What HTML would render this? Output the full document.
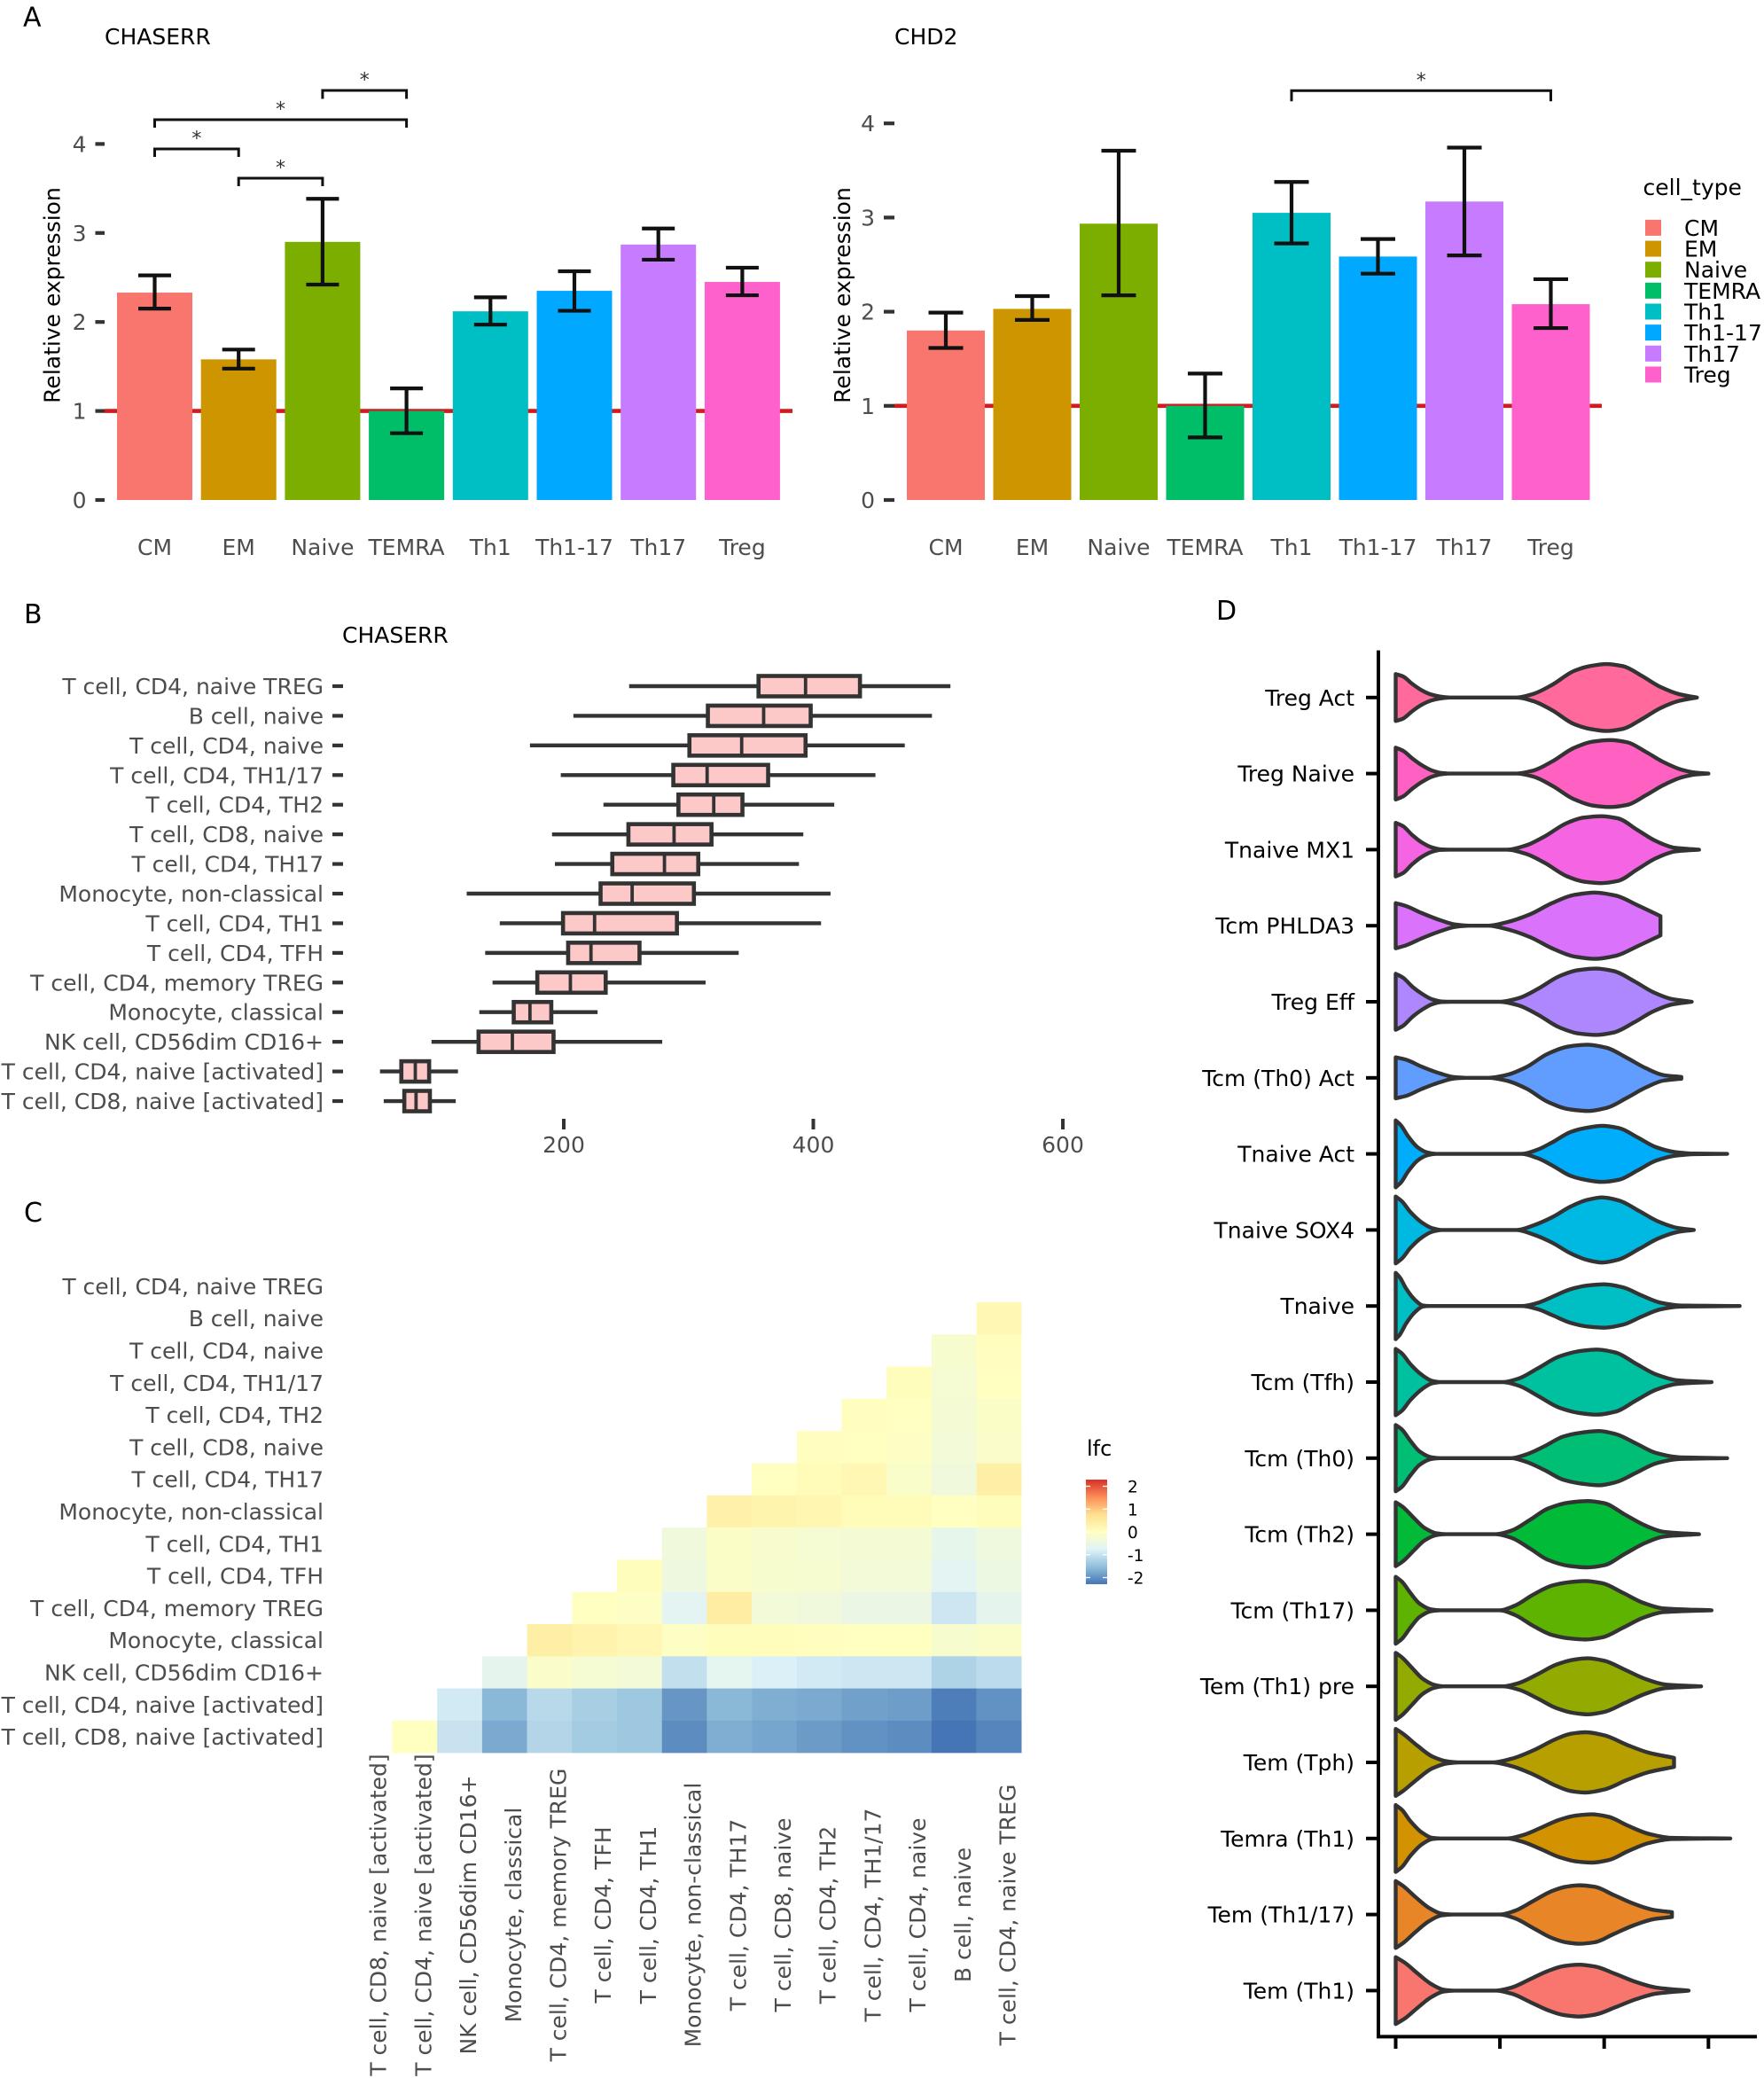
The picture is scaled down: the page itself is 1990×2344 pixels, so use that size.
<!DOCTYPE html>
<html>
<head>
<meta charset="utf-8">
<title>CHASERR expression figure</title>
<style>
html,body{margin:0;padding:0;background:#fff;}
svg{display:block;font-family:"DejaVu Sans","Liberation Sans",sans-serif;}
</style>
</head>
<body>
<svg id="fig" width="1990" height="2344" viewBox="0 0 1990 2344"></svg>
<script>
/* ===== Panel A data ===== */
var barCategories = ['CM','EM','Naive','TEMRA','Th1','Th1-17','Th17','Treg'];
var barColors = ['#F8766D','#CD9600','#7CAE00','#00BE67','#00BFC4','#00A9FF','#C77CFF','#FF61CC'];
var yTicksA = [0,1,2,3,4];
var chaserrMeans = [2.33,1.58,2.90,1.00,2.12,2.35,2.87,2.45];
var chaserrHigh  = [2.524,1.69,3.384,1.254,2.277,2.57,3.05,2.61];
var chaserrLow   = [2.15,1.476,2.42,0.75,1.97,2.126,2.70,2.30];
var chd2Means = [1.80,2.03,2.935,1.00,3.05,2.586,3.17,2.08];
var chd2High  = [1.99,2.166,3.71,1.343,3.378,2.772,3.743,2.345];
var chd2Low   = [1.615,1.913,2.174,0.665,2.725,2.404,2.598,1.826];

/* ===== Panel B data ===== */
var boxLabels = ['T cell, CD4, naive TREG','B cell, naive','T cell, CD4, naive','T cell, CD4, TH1/17','T cell, CD4, TH2','T cell, CD8, naive','T cell, CD4, TH17','Monocyte, non-classical','T cell, CD4, TH1','T cell, CD4, TFH','T cell, CD4, memory TREG','Monocyte, classical','NK cell, CD56dim CD16+','T cell, CD4, naive [activated]','T cell, CD8, naive [activated]'];
var boxWhiskerLow = [252.4,207.7,172.9,197.6,231.8,190.6,192.9,122.2,148.7,137,142.9,132.3,94,52.7,55.7];
var boxQ1 = [356.1,315.5,300.7,287.8,291.9,251.8,238.9,229.5,199.4,203.5,178.8,159.9,131.7,69.8,72.2];
var boxMedian = [393.8,360.2,342.6,314.9,320.2,288.4,280.7,254.8,224.7,221.8,205.3,172.9,158.8,81,81.6];
var boxQ3 = [437.4,397.9,393.8,363.8,343.2,318.4,307.8,304.3,290.7,260.7,233.6,190,191.8,92.1,92.7];
var boxWhiskerHigh = [509.9,495.1,473.3,449.8,416.8,392,388.5,413.8,406.2,340.2,313.7,227.1,278.9,115.2,113.4];
var boxXTicks = [200,400,600];

/* ===== Panel C data ===== */
var heatColLabels = ['T cell, CD8, naive [activated]','T cell, CD4, naive [activated]','NK cell, CD56dim CD16+','Monocyte, classical','T cell, CD4, memory TREG','T cell, CD4, TFH','T cell, CD4, TH1','Monocyte, non-classical','T cell, CD4, TH17','T cell, CD8, naive','T cell, CD4, TH2','T cell, CD4, TH1/17','T cell, CD4, naive','B cell, naive','T cell, CD4, naive TREG'];
var heatRowLabels = boxLabels;
var heatValues = [
 [],
 [0.2],
 [-0.2,0.02],
 [0.05,-0.25,-0.03],
 [0.02,-0.02,-0.28,-0.1],
 [0.02,-0.03,-0.07,-0.33,-0.13],
 [-0.03,0.1,0.2,-0.15,-0.38,0.4],
 [0.35,0.28,0.22,0.1,0.1,-0.03,0.05],
 [-0.38,-0.1,-0.18,-0.25,-0.28,-0.28,-0.58,-0.4],
 [0.05,-0.42,-0.12,-0.2,-0.22,-0.33,-0.33,-0.68,-0.47],
 [-0.02,-0.08,-0.68,0.45,-0.33,-0.38,-0.5,-0.5,-0.95,-0.63],
 [0.4,0.3,0.2,-0.07,0.05,0.05,0.02,-0.02,0,-0.2,-0.12],
 [-0.63,-0.13,-0.25,-0.33,-1.05,-0.65,-0.8,-0.9,-0.95,-0.95,-1.25,-1.1],
 [-0.9,-1.6,-1.15,-1.3,-1.4,-1.95,-1.6,-1.7,-1.75,-1.85,-1.88,-2.2,-2.0],
 [0,-1.0,-1.75,-1.2,-1.35,-1.4,-2.05,-1.7,-1.8,-1.9,-2.0,-2.05,-2.3,-2.12]
];
var colorStops = ['#4575B4','#91BFDB','#E0F3F8','#FFFFBF','#FEE090','#FC8D59','#D73027'];
var colorLimit = 2.29;
var legendTicks = [2,1,0,-1,-2];

/* ===== Panel D data ===== */
var violinLabels = ['Treg Act','Treg Naive','Tnaive MX1','Tcm PHLDA3','Treg Eff','Tcm (Th0) Act','Tnaive Act','Tnaive SOX4','Tnaive','Tcm (Tfh)','Tcm (Th0)','Tcm (Th2)','Tcm (Th17)','Tem (Th1) pre','Tem (Tph)','Temra (Th1)','Tem (Th1/17)','Tem (Th1)'];
var violinColors = ['#FF699C','#FF61C3','#F564E3','#DB72FB','#AE87FF','#619CFF','#00ADFA','#00B9E3','#00BFC4','#00C19F','#00BF74','#00BA38','#5EB300','#93AA00','#B79F00','#D39200','#E88526','#F8766D'];
var violinTicks = [0,1,2,3];
var violinDensities = [
 [[0,.78],[.07,.70],[.16,.45],[.25,.24],[.34,.10],[.43,.03],[.52,0],[1.16,0],[1.32,.12],[1.50,.42],[1.71,.88],[1.86,1.04],[2.02,1.11],[2.18,1.04],[2.36,.72],[2.54,.35],[2.72,.11],[2.89,0]],
 [[0,.86],[.07,.76],[.16,.50],[.25,.28],[.35,.10],[.44,.02],[.53,0],[1.16,0],[1.32,.10],[1.50,.40],[1.71,.85],[1.89,1.06],[2.06,1.11],[2.22,1.04],[2.40,.72],[2.57,.38],[2.75,.12],[2.88,.03],[3.00,0]],
 [[0,.89],[.07,.78],[.16,.48],[.25,.24],[.35,.07],[.43,.01],[.52,0],[1.07,0],[1.25,.14],[1.43,.44],[1.64,.88],[1.80,1.06],[1.97,1.11],[2.13,1.04],[2.32,.65],[2.50,.28],[2.68,.06],[2.91,0]],
 [[0,.75],[.10,.65],[.25,.42],[.43,.18],[.57,.04],[.71,0],[.89,0],[1.07,.12],[1.29,.38],[1.50,.75],[1.71,1.02],[1.91,1.10],[2.11,1.00],[2.32,.68],[2.54,.32]],
 [[0,.93],[.07,.80],[.16,.50],[.25,.27],[.35,.08],[.44,.01],[.53,0],[1.00,0],[1.18,.12],[1.36,.42],[1.57,.85],[1.75,1.05],[1.92,1.10],[2.09,1.02],[2.29,.68],[2.47,.32],[2.65,.09],[2.84,0]],
 [[0,.68],[.10,.60],[.25,.37],[.43,.14],[.57,.02],[.68,0],[.89,0],[1.07,.10],[1.25,.35],[1.46,.80],[1.66,1.04],[1.84,1.10],[2.02,1.00],[2.22,.66],[2.40,.32],[2.57,.09],[2.74,.03]],
 [[0,1.11],[.05,.95],[.12,.58],[.21,.22],[.30,.05],[.39,0],[1.21,0],[1.36,.14],[1.50,.38],[1.68,.73],[1.82,.86],[1.98,.93],[2.14,.86],[2.32,.55],[2.50,.22],[2.68,.06],[2.86,.01],[3.18,0]],
 [[0,1.11],[.06,.95],[.14,.60],[.25,.25],[.35,.06],[.44,0],[1.16,0],[1.32,.15],[1.50,.42],[1.68,.78],[1.84,1.00],[1.98,1.08],[2.14,.98],[2.34,.62],[2.52,.28],[2.70,.07],[2.86,0]],
 [[0,1.10],[.04,.95],[.10,.58],[.18,.22],[.26,.02],[.32,0],[1.21,0],[1.36,.10],[1.50,.30],[1.68,.56],[1.84,.68],[2.00,.72],[2.18,.62],[2.36,.35],[2.54,.11],[2.72,.02],[3.30,0]],
 [[0,1.10],[.06,.95],[.14,.60],[.25,.24],[.35,.04],[.43,0],[1.03,0],[1.18,.12],[1.36,.45],[1.57,.85],[1.77,1.03],[1.93,1.08],[2.11,.98],[2.31,.60],[2.50,.25],[2.70,.06],[3.03,0]],
 [[0,1.10],[.06,.95],[.14,.58],[.23,.22],[.34,.03],[.43,0],[1.11,0],[1.25,.12],[1.43,.40],[1.61,.72],[1.79,.85],[1.95,.90],[2.11,.80],[2.31,.48],[2.50,.17],[2.72,.03],[3.18,0]],
 [[0,1.06],[.07,.90],[.18,.52],[.28,.20],[.39,.03],[.48,0],[.96,0],[1.11,.12],[1.29,.48],[1.46,.85],[1.66,1.05],[1.84,1.10],[2.00,1.03],[2.20,.65],[2.40,.28],[2.57,.08],[2.91,0]],
 [[0,1.11],[.06,.95],[.14,.58],[.23,.22],[.34,.03],[.43,0],[1.00,0],[1.14,.15],[1.32,.52],[1.50,.82],[1.66,.93],[1.82,.97],[1.98,.90],[2.18,.58],[2.38,.24],[2.57,.06],[3.03,0]],
 [[0,1.11],[.06,.96],[.16,.60],[.26,.25],[.37,.05],[.46,0],[1.03,0],[1.18,.11],[1.36,.40],[1.54,.72],[1.70,.88],[1.84,.93],[2.00,.85],[2.20,.55],[2.40,.24],[2.59,.06],[2.93,0]],
 [[0,1.11],[.07,.95],[.21,.55],[.35,.20],[.50,.03],[.61,0],[.93,0],[1.11,.12],[1.32,.40],[1.54,.78],[1.68,.95],[1.82,1.00],[2.00,.90],[2.22,.58],[2.43,.32],[2.67,.15]],
 [[0,1.11],[.06,.95],[.14,.58],[.25,.20],[.35,.02],[.43,0],[1.07,0],[1.21,.10],[1.39,.35],[1.57,.62],[1.73,.76],[1.88,.80],[2.04,.72],[2.23,.42],[2.43,.15],[2.65,.02],[3.21,0]],
 [[0,1.11],[.07,.95],[.19,.58],[.32,.22],[.44,.03],[.55,0],[1.00,0],[1.14,.12],[1.32,.45],[1.50,.78],[1.63,.92],[1.76,.97],[1.91,.92],[2.09,.65],[2.29,.35],[2.48,.15],[2.65,.08]],
 [[0,1.11],[.09,.92],[.21,.57],[.34,.22],[.46,.03],[.57,0],[.96,0],[1.11,.10],[1.29,.38],[1.46,.65],[1.61,.81],[1.76,.86],[1.91,.80],[2.11,.55],[2.31,.28],[2.50,.10],[2.81,0]]
];

/* ===== helpers ===== */
var svg = document.getElementById('fig');
var NS = svg.namespaceURI;
var FS = 25;
function mk(tag, attrs, parent) {
  var e = document.createElementNS(NS, tag);
  for (var k in attrs) { e.setAttribute(k, attrs[k]); }
  (parent || svg).appendChild(e);
  return e;
}
function txt(x, y, s, fill, size, anchor, rot) {
  var a = {x:x, y:y, fill:fill, 'font-size':size, 'text-anchor':anchor || 'start'};
  if (rot) { a.transform = 'rotate(-90 ' + x + ' ' + y + ')'; }
  var t = mk('text', a);
  t.textContent = s;
  return t;
}
function line(x1, y1, x2, y2, color, w) {
  return mk('line', {x1:x1, y1:y1, x2:x2, y2:y2, stroke:color, 'stroke-width':w});
}
function slug(s) {
  return s.toLowerCase().replace(/[^a-z0-9]+/g, '-').replace(/^-|-$/g, '');
}

/* ===== panel letters and titles ===== */
var panelLetters = [['A',26,29.5],['B',27,703],['C',27,1378],['D',1372,699]];
panelLetters.forEach(function (p) {
  var t = txt(p[1], p[2], p[0], '#000', 30);
  
  
});

/* ===== Panel A bar charts ===== */
function barPanel(cfg) {
  var y = function (v) { return cfg.y0 - v * cfg.unit; };
  var x = function (i) { return cfg.x0 + i * cfg.step; };
  var title = txt(cfg.titleX, 50, cfg.gene, '#000', FS);
  
  
  var yt = txt(cfg.ylabX, 333, 'Relative expression', '#000', FS, 'middle', true);
  
  
  yTicksA.forEach(function (v) {
    var tk = line(cfg.tickX, y(v), cfg.refStart, y(v), '#333', 4.2);
    
    
    var lb = txt(cfg.tickX - 10, y(v) + 9, String(v), '#4d4d4d', FS, 'end');
    
    
  });
  var ref = line(cfg.refStart, y(1), cfg.refEnd, y(1), '#D01C1F', 4.6);
  
  
  barCategories.forEach(function (c, i) {
    var b = mk('rect', {x:x(i) - cfg.bw / 2, y:y(cfg.means[i]), width:cfg.bw, height:cfg.y0 - y(cfg.means[i]), fill:barColors[i]});
    
    
  });
  barCategories.forEach(function (c, i) {
    var eb = mk('path', {
      d: 'M' + (x(i) - cfg.cap / 2) + ' ' + y(cfg.high[i]) + 'H' + (x(i) + cfg.cap / 2) +
         'M' + x(i) + ' ' + y(cfg.high[i]) + 'V' + y(cfg.low[i]) +
         'M' + (x(i) - cfg.cap / 2) + ' ' + y(cfg.low[i]) + 'H' + (x(i) + cfg.cap / 2),
      stroke:'#111', 'stroke-width':4.2, fill:'none'});
    
    
    var lb = txt(x(i), 626, c, '#4d4d4d', FS, 'middle');
    
    
  });
  cfg.brackets.forEach(function (b, k) {
    var xa = x(b[0]), xb = x(b[1]);
    var br = mk('path', {d:'M' + xa + ' ' + (b[2] + b[3]) + 'V' + b[2] + 'H' + xb + 'V' + (b[2] + b[3]), stroke:'#111', 'stroke-width':3, fill:'none'});
    
    
    var st = txt((xa + xb) / 2, b[2] - 4.5, '*', '#333', 22, 'middle');
    
    
  });
}
barPanel({key:'chaserr', gene:'CHASERR', titleX:118, ylabX:67.5, y0:564, unit:100.4, x0:174.5, step:94.7, bw:85, cap:37,
  tickX:107.5, refStart:118, refEnd:894, means:chaserrMeans, high:chaserrHigh, low:chaserrLow,
  brackets:[[0,1,168,9],[1,2,201,9],[0,3,135,9],[2,3,102,9.5]]});
barPanel({key:'chd2', gene:'CHD2', titleX:1009, ylabX:959, y0:564, unit:106.2, x0:1067, step:97.5, bw:88, cap:39,
  tickX:997, refStart:1009, refEnd:1807, means:chd2Means, high:chd2High, low:chd2Low,
  brackets:[[4,7,102.3,12]]});

/* legend for bars */
var legTitle = txt(1853.5, 220, 'cell_type', '#000', FS);


barCategories.forEach(function (c, i) {
  var cy = 256.9 + i * 23.65;
  var sw = mk('rect', {x:1856, y:cy - 9, width:18, height:18, fill:barColors[i]});
  
  
  var lb = txt(1900, cy + 9, c, '#000', FS);
  
  
});

/* ===== Panel B boxplot ===== */
var boxX = function (v) { return 636 + (v - 200) * 1.4075; };
var boxY = function (i) { return 774 + i * 33.43; };
var bTitle = txt(386, 725, 'CHASERR', '#000', FS);


boxLabels.forEach(function (c, i) {
  var cy = boxY(i);
  var tk = line(375, cy, 387, cy, '#333', 4.2);
  
  
  var lb = txt(365, cy + 9, c, '#4d4d4d', FS, 'end');
  
  
  var wh = line(boxX(boxWhiskerLow[i]), cy, boxX(boxWhiskerHigh[i]), cy, '#333', 4.4);
  
  
  var bx = mk('rect', {x:boxX(boxQ1[i]), y:cy - 11.5, width:boxX(boxQ3[i]) - boxX(boxQ1[i]), height:23, fill:'#FCC8C8', stroke:'#333', 'stroke-width':4.6});
  
  
  var md = line(boxX(boxMedian[i]), cy - 11.5, boxX(boxMedian[i]), cy + 11.5, '#333', 3.8);
  
  
});
boxXTicks.forEach(function (v) {
  var tk = line(boxX(v), 1262, boxX(v), 1274, '#333', 4);
  
  
  var lb = txt(boxX(v), 1300, String(v), '#4d4d4d', FS, 'middle');
  
  
});

/* ===== Panel C heatmap ===== */
function hexToRgb(h) {
  return [parseInt(h.substr(1, 2), 16), parseInt(h.substr(3, 2), 16), parseInt(h.substr(5, 2), 16)];
}
function heatColor(v) {
  var t = (Math.max(-colorLimit, Math.min(colorLimit, v)) + colorLimit) / (2 * colorLimit) * (colorStops.length - 1);
  var i = Math.min(colorStops.length - 2, Math.floor(t));
  var f = t - i, a = hexToRgb(colorStops[i]), b = hexToRgb(colorStops[i + 1]);
  return 'rgb(' + Math.round(a[0] + (b[0] - a[0]) * f) + ',' + Math.round(a[1] + (b[1] - a[1]) * f) + ',' + Math.round(a[2] + (b[2] - a[2]) * f) + ')';
}
var heatX = function (c) { return 391.8 + c * 50.7; };
var heatY = function (r) { return 1432.7 + r * 36.3; };
heatValues.forEach(function (row, r) {
  var start = heatColLabels.length - row.length;
  row.forEach(function (v, k) {
    var c = start + k;
    var cell = mk('rect', {x:heatX(c), y:heatY(r), width:50.9, height:36.5, fill:heatColor(v)});
    
    
  });
});
heatRowLabels.forEach(function (c, r) {
  var lb = txt(365, heatY(r) + 18.15 + 9, c, '#4d4d4d', FS, 'end');
  
  
});
heatColLabels.forEach(function (c, i) {
  var lb = txt(heatX(i) + 25.35 + 18.5, 2160, c, '#4d4d4d', FS, 'middle', true);
  
  
});

/* colorbar */
var defs = mk('defs', {});
var grad = mk('linearGradient', {id:'lfcGrad', x1:0, y1:0, x2:0, y2:1}, defs);
colorStops.slice().reverse().forEach(function (c, i) {
  mk('stop', {offset:(i / (colorStops.length - 1) * 100) + '%', 'stop-color':c}, grad);
});
var cbY = function (v) { return 1728 - v * 25.75; };
var lfcTitle = txt(1226, 1642, 'lfc', '#000', 24);


var cb = mk('rect', {x:1225, y:cbY(colorLimit), width:24, height:cbY(-colorLimit) - cbY(colorLimit), fill:'url(#lfcGrad)'});


legendTicks.forEach(function (v) {
  var t1 = line(1225, cbY(v), 1230, cbY(v), '#fff', 1.3);
  
  
  var t2 = line(1244, cbY(v), 1249, cbY(v), '#fff', 1.3);
  
  
  var lb = txt(1272, cbY(v) + 7, String(v), '#000', 18.5);
  
  
});

/* ===== Panel D violins ===== */
var violinX = function (v) { return 1574.5 + v * 117.6; };
var violinY = function (i) { return 786.8 + i * 85.8; };
var densityPx = 34;
function monotoneSegments(pts) {
  var n = pts.length, s = [], m = [], i;
  for (i = 0; i < n - 1; i++) { s.push((pts[i + 1][1] - pts[i][1]) / (pts[i + 1][0] - pts[i][0])); }
  m[0] = s[0]; m[n - 1] = s[n - 2];
  for (i = 1; i < n - 1; i++) {
    if (s[i - 1] * s[i] <= 0) { m[i] = 0; continue; }
    var h0 = pts[i][0] - pts[i - 1][0], h1 = pts[i + 1][0] - pts[i][0];
    m[i] = 3 * (h0 + h1) / ((2 * h1 + h0) / s[i - 1] + (h1 + 2 * h0) / s[i]);
  }
  var out = [];
  for (i = 0; i < n - 1; i++) {
    var h = (pts[i + 1][0] - pts[i][0]) / 3;
    out.push([pts[i][0] + h, pts[i][1] + m[i] * h, pts[i + 1][0] - h, pts[i + 1][1] - m[i + 1] * h, pts[i + 1][0], pts[i + 1][1]]);
  }
  return out;
}
function violinPath(profile, cy) {
  var pts = profile.map(function (p) { return [violinX(p[0]), p[1] * densityPx]; });
  var seg = monotoneSegments(pts);
  var d = 'M' + pts[0][0] + ' ' + (cy - pts[0][1]);
  seg.forEach(function (q) {
    d += 'C' + q[0] + ' ' + (cy - q[1]) + ' ' + q[2] + ' ' + (cy - q[3]) + ' ' + q[4] + ' ' + (cy - q[5]);
  });
  d += 'L' + pts[pts.length - 1][0] + ' ' + (cy + pts[pts.length - 1][1]);
  for (var i = seg.length - 1; i >= 0; i--) {
    var q = seg[i], prev = pts[i];
    d += 'C' + q[2] + ' ' + (cy + q[3]) + ' ' + q[0] + ' ' + (cy + q[1]) + ' ' + prev[0] + ' ' + (cy + prev[1]);
  }
  return d + 'Z';
}
violinLabels.forEach(function (c, i) {
  var cy = violinY(i);
  var tk = line(1541, cy, 1555, cy, '#000', 4);
  
  
  var lb = txt(1528, cy + 9, c, '#000', FS, 'end');
  
  
  var vp = mk('path', {d:violinPath(violinDensities[i], cy), fill:violinColors[i], stroke:'#333', 'stroke-width':4.4, 'stroke-linejoin':'round'});
  
  
});
var axisY = line(1555, 733.6, 1555, 2299, '#000', 4);


var axisX = line(1553, 2297.4, 1982, 2297.4, '#000', 4);


violinTicks.forEach(function (v) {
  var tk = line(violinX(v), 2297, violinX(v), 2311, '#000', 4);
  
  
});
</script>
</body>
</html>
